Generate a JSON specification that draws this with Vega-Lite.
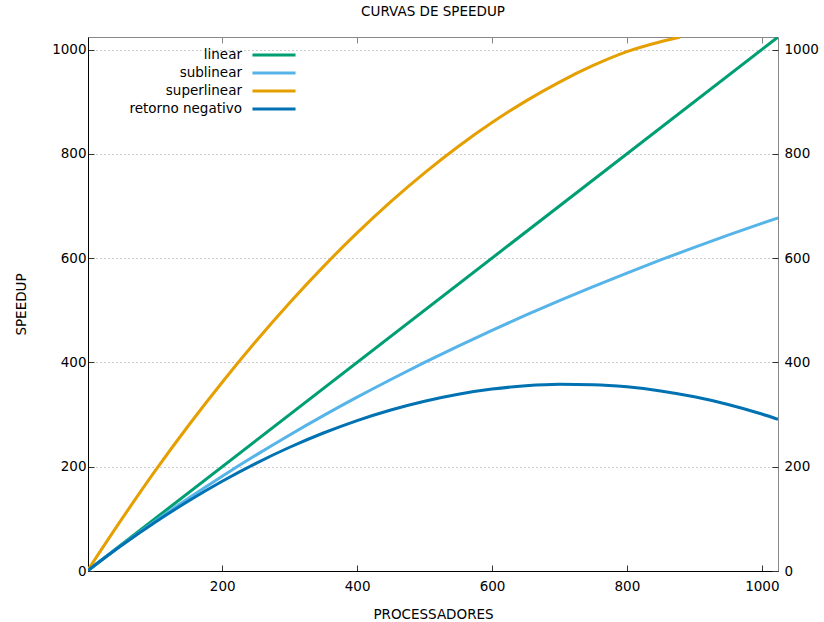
{
  "$schema": "https://vega.github.io/schema/vega-lite/v6.json",
  "width": 690,
  "height": 534,
  "autosize": "none",
  "padding": {"left": 88, "top": 37, "right": 46, "bottom": 51},
  "config": {
    "font": "DejaVu Sans",
    "view": {"stroke": "#888888", "strokeWidth": 1},
    "axis": {"labelFont": "DejaVu Sans", "titleFont": "DejaVu Sans", "labelFontSize": 13.5, "titleFontSize": 13.5, "labelColor": "#000000", "titleColor": "#000000", "titleFontWeight": "normal", "tickColor": "#333333", "domainColor": "#000000", "format": "d"}
  },
  "title": {"text": "CURVAS DE SPEEDUP", "fontSize": 13.5, "fontWeight": "normal", "font": "DejaVu Sans", "color": "#000000", "offset": 18},
  "data": {"values": [
    {"x": 1, "y": 1, "s": "linear"},
    {"x": 1024, "y": 1024, "s": "linear"},
    {"x": 1, "y": 1, "s": "sublinear"},
    {"x": 50, "y": 48.8, "s": "sublinear"},
    {"x": 100, "y": 95.2, "s": "sublinear"},
    {"x": 150, "y": 139.5, "s": "sublinear"},
    {"x": 200, "y": 181.8, "s": "sublinear"},
    {"x": 250, "y": 222.2, "s": "sublinear"},
    {"x": 300, "y": 260.9, "s": "sublinear"},
    {"x": 350, "y": 297.9, "s": "sublinear"},
    {"x": 400, "y": 333.3, "s": "sublinear"},
    {"x": 450, "y": 367.3, "s": "sublinear"},
    {"x": 500, "y": 400, "s": "sublinear"},
    {"x": 550, "y": 431.4, "s": "sublinear"},
    {"x": 600, "y": 461.5, "s": "sublinear"},
    {"x": 650, "y": 490.6, "s": "sublinear"},
    {"x": 700, "y": 518.5, "s": "sublinear"},
    {"x": 750, "y": 545.5, "s": "sublinear"},
    {"x": 800, "y": 571.4, "s": "sublinear"},
    {"x": 850, "y": 596.5, "s": "sublinear"},
    {"x": 900, "y": 620.7, "s": "sublinear"},
    {"x": 950, "y": 644.1, "s": "sublinear"},
    {"x": 1000, "y": 666.7, "s": "sublinear"},
    {"x": 1024, "y": 677.2, "s": "sublinear"},
    {"x": 1, "y": 2, "s": "superlinear"},
    {"x": 50, "y": 97.5, "s": "superlinear"},
    {"x": 100, "y": 191, "s": "superlinear"},
    {"x": 150, "y": 279, "s": "superlinear"},
    {"x": 200, "y": 362, "s": "superlinear"},
    {"x": 250, "y": 440.4, "s": "superlinear"},
    {"x": 300, "y": 514.4, "s": "superlinear"},
    {"x": 350, "y": 583.7, "s": "superlinear"},
    {"x": 400, "y": 648.3, "s": "superlinear"},
    {"x": 450, "y": 708.3, "s": "superlinear"},
    {"x": 500, "y": 763.5, "s": "superlinear"},
    {"x": 550, "y": 814.1, "s": "superlinear"},
    {"x": 600, "y": 859.9, "s": "superlinear"},
    {"x": 650, "y": 901.1, "s": "superlinear"},
    {"x": 700, "y": 937.6, "s": "superlinear"},
    {"x": 750, "y": 969.4, "s": "superlinear"},
    {"x": 800, "y": 996, "s": "superlinear"},
    {"x": 850, "y": 1015, "s": "superlinear"},
    {"x": 879, "y": 1024, "s": "superlinear"},
    {"x": 1, "y": 1, "s": "retorno negativo"},
    {"x": 50, "y": 48.3, "s": "retorno negativo"},
    {"x": 100, "y": 93, "s": "retorno negativo"},
    {"x": 150, "y": 134.3, "s": "retorno negativo"},
    {"x": 200, "y": 172.1, "s": "retorno negativo"},
    {"x": 250, "y": 206.5, "s": "retorno negativo"},
    {"x": 300, "y": 237.3, "s": "retorno negativo"},
    {"x": 350, "y": 264.6, "s": "retorno negativo"},
    {"x": 400, "y": 288.5, "s": "retorno negativo"},
    {"x": 450, "y": 308.8, "s": "retorno negativo"},
    {"x": 500, "y": 325.6, "s": "retorno negativo"},
    {"x": 550, "y": 339, "s": "retorno negativo"},
    {"x": 600, "y": 348.8, "s": "retorno negativo"},
    {"x": 650, "y": 355.1, "s": "retorno negativo"},
    {"x": 700, "y": 358, "s": "retorno negativo"},
    {"x": 750, "y": 357.2, "s": "retorno negativo"},
    {"x": 800, "y": 353.1, "s": "retorno negativo"},
    {"x": 850, "y": 345.3, "s": "retorno negativo"},
    {"x": 900, "y": 334, "s": "retorno negativo"},
    {"x": 950, "y": 319.3, "s": "retorno negativo"},
    {"x": 1000, "y": 301, "s": "retorno negativo"},
    {"x": 1024, "y": 291, "s": "retorno negativo"}
  ]},
  "layer": [
    {
      "mark": {"type": "line", "strokeWidth": 3, "interpolate": "monotone", "clip": true},
      "encoding": {
        "x": {"field": "x", "type": "quantitative", "scale": {"domain": [1, 1024], "nice": false, "zero": false},
          "axis": {"orient": "bottom", "title": "PROCESSADORES", "values": [200, 400, 600, 800, 1000], "grid": false, "tickSize": -6, "labelPadding": 14, "titlePadding": 15}},
        "y": {"field": "y", "type": "quantitative", "scale": {"domain": [0, 1024], "nice": false},
          "axis": {"orient": "left", "title": "SPEEDUP", "values": [0, 200, 400, 600, 800, 1000], "grid": true, "gridDash": [1, 3], "gridColor": "#999999", "tickSize": -6, "labelPadding": 8, "titlePadding": 23}},
        "color": {"field": "s", "type": "nominal",
          "scale": {"domain": ["linear", "sublinear", "superlinear", "retorno negativo"], "range": ["#009e73", "#56b4e9", "#e69f00", "#0072b2"]},
          "legend": {"title": null, "orient": "none", "legendX": 179, "legendY": 11, "symbolType": "M-4,0H4", "symbolSize": 116, "symbolStrokeWidth": 3, "labelAlign": "right", "labelOffset": -39, "labelFontSize": 13.5, "labelFont": "DejaVu Sans", "labelColor": "#000000", "rowPadding": 4, "padding": 0, "labelLimit": 300}}
      }
    },
    {
      "mark": {"type": "line", "opacity": 0},
      "encoding": {
        "x": {"field": "x", "type": "quantitative", "axis": {"orient": "top", "title": null, "values": [200, 400, 600, 800, 1000], "labels": false, "domain": false, "grid": false, "tickSize": -6, "tickColor": "#888888"}},
        "y": {"field": "y", "type": "quantitative", "axis": {"orient": "right", "title": null, "values": [0, 200, 400, 600, 800, 1000], "domain": false, "grid": false, "tickSize": -6, "labelPadding": 12}},
        "detail": {"field": "s"}
      }
    }
  ],
  "resolve": {"axis": {"x": "independent", "y": "independent"}}
}
